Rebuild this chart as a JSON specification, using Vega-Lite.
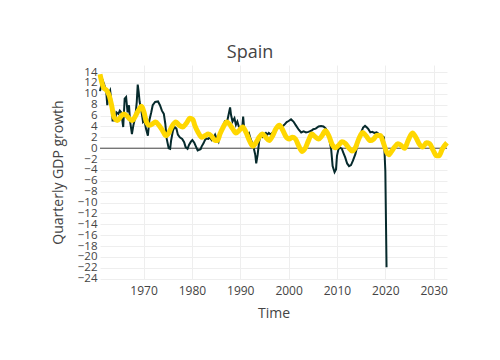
{
  "$schema": "https://vega.github.io/schema/vega-lite/v6.json",
  "autosize": {"type": "none"},
  "padding": {"left": 100, "top": 65, "right": 53, "bottom": 81},
  "width": 347,
  "height": 214,
  "background": "white",
  "title": {"text": "Spain", "font": "Open Sans", "fontSize": 18, "fontWeight": "normal", "color": "#444", "anchor": "middle", "dx": -23.5, "dy": 21, "baseline": "alphabetic", "offset": 9},
  "config": {
    "view": {"stroke": null},
    "axis": {"domain": false, "ticks": false, "gridColor": "#eeeeee", "gridWidth": 1, "labelColor": "#444", "labelFont": "Open Sans", "labelFontSize": 12, "labelOverlap": false, "titleFont": "Open Sans", "titleFontSize": 14, "titleColor": "#444", "titleFontWeight": "normal"}
  },
  "datasets": {
    "actual": [
      {"t":1961.0,"v":10.5},{"t":1961.5,"v":12.6},{"t":1961.9,"v":11.6},{"t":1962.3,"v":10.3},{"t":1962.5,"v":7.9},{"t":1962.8,"v":10.0},{"t":1963.1,"v":10.6},{"t":1963.3,"v":9.1},{"t":1963.6,"v":5.1},{"t":1964.1,"v":5.1},{"t":1964.4,"v":6.6},{"t":1964.8,"v":6.3},{"t":1965.1,"v":6.9},{"t":1965.4,"v":6.6},{"t":1965.8,"v":3.9},{"t":1966.1,"v":9.1},{"t":1966.4,"v":9.4},{"t":1966.7,"v":6.6},{"t":1967.0,"v":7.9},{"t":1967.2,"v":5.1},{"t":1967.6,"v":2.6},{"t":1967.9,"v":4.2},{"t":1968.3,"v":5.7},{"t":1968.6,"v":8.5},{"t":1968.8,"v":11.7},{"t":1969.0,"v":10.3},{"t":1969.2,"v":8.5},{"t":1969.5,"v":7.2},{"t":1969.9,"v":4.8},{"t":1970.2,"v":5.1},{"t":1970.5,"v":3.6},{"t":1970.9,"v":2.3},{"t":1971.2,"v":5.1},{"t":1971.6,"v":6.6},{"t":1971.9,"v":7.9},{"t":1972.4,"v":8.5},{"t":1973.0,"v":8.6},{"t":1973.4,"v":7.9},{"t":1973.8,"v":6.9},{"t":1974.2,"v":6.3},{"t":1974.5,"v":4.5},{"t":1974.8,"v":1.7},{"t":1975.2,"v":0.0},{"t":1975.5,"v":-0.1},{"t":1975.7,"v":1.4},{"t":1976.1,"v":3.3},{"t":1976.4,"v":3.9},{"t":1976.8,"v":3.6},{"t":1977.1,"v":2.5},{"t":1977.5,"v":2.0},{"t":1978.0,"v":1.7},{"t":1978.4,"v":1.1},{"t":1978.7,"v":0.2},{"t":1979.1,"v":-0.1},{"t":1979.4,"v":0.6},{"t":1979.8,"v":1.2},{"t":1980.1,"v":1.5},{"t":1980.5,"v":1.0},{"t":1980.8,"v":0.4},{"t":1981.2,"v":-0.4},{"t":1981.5,"v":-0.3},{"t":1981.8,"v":-0.2},{"t":1982.0,"v":0.3},{"t":1982.4,"v":0.9},{"t":1982.7,"v":1.5},{"t":1983.0,"v":1.8},{"t":1983.4,"v":1.7},{"t":1983.7,"v":2.0},{"t":1984.1,"v":1.5},{"t":1984.4,"v":1.8},{"t":1984.8,"v":2.5},{"t":1985.1,"v":1.8},{"t":1985.5,"v":1.2},{"t":1985.8,"v":2.5},{"t":1986.2,"v":3.7},{"t":1986.5,"v":4.3},{"t":1986.8,"v":4.9},{"t":1987.2,"v":4.6},{"t":1987.5,"v":5.8},{"t":1987.9,"v":7.5},{"t":1988.1,"v":6.1},{"t":1988.4,"v":4.9},{"t":1988.8,"v":5.5},{"t":1989.1,"v":4.3},{"t":1989.4,"v":4.9},{"t":1989.7,"v":4.0},{"t":1990.1,"v":3.7},{"t":1990.4,"v":3.7},{"t":1990.6,"v":5.8},{"t":1990.8,"v":3.7},{"t":1991.1,"v":3.4},{"t":1991.4,"v":2.5},{"t":1991.8,"v":2.8},{"t":1992.1,"v":1.8},{"t":1992.5,"v":0.9},{"t":1992.8,"v":0.0},{"t":1993.1,"v":-1.2},{"t":1993.3,"v":-2.8},{"t":1993.6,"v":-1.2},{"t":1993.9,"v":1.2},{"t":1994.2,"v":2.5},{"t":1994.6,"v":2.1},{"t":1994.9,"v":2.5},{"t":1995.3,"v":2.8},{"t":1995.6,"v":2.5},{"t":1995.9,"v":2.8},{"t":1996.3,"v":2.5},{"t":1996.6,"v":2.8},{"t":1997.1,"v":3.2},{"t":1997.6,"v":3.7},{"t":1998.1,"v":3.8},{"t":1998.7,"v":4.0},{"t":1999.1,"v":4.3},{"t":1999.6,"v":4.8},{"t":2000.0,"v":5.0},{"t":2000.5,"v":5.3},{"t":2001.0,"v":4.9},{"t":2001.5,"v":4.2},{"t":2002.1,"v":3.4},{"t":2002.6,"v":2.9},{"t":2003.1,"v":3.1},{"t":2003.6,"v":2.9},{"t":2004.1,"v":3.0},{"t":2004.7,"v":3.2},{"t":2005.1,"v":3.5},{"t":2005.6,"v":3.6},{"t":2006.2,"v":4.0},{"t":2006.7,"v":4.1},{"t":2007.2,"v":4.0},{"t":2007.7,"v":3.6},{"t":2008.1,"v":2.9},{"t":2008.4,"v":1.7},{"t":2008.8,"v":-0.2},{"t":2009.1,"v":-3.3},{"t":2009.5,"v":-4.4},{"t":2009.8,"v":-3.9},{"t":2010.0,"v":-1.4},{"t":2010.3,"v":-0.2},{"t":2010.6,"v":0.1},{"t":2011.0,"v":-0.1},{"t":2011.3,"v":-0.8},{"t":2011.7,"v":-1.7},{"t":2012.1,"v":-2.8},{"t":2012.5,"v":-3.3},{"t":2012.9,"v":-3.1},{"t":2013.3,"v":-2.3},{"t":2013.8,"v":-1.1},{"t":2014.2,"v":0.4},{"t":2014.6,"v":1.7},{"t":2015.0,"v":2.9},{"t":2015.4,"v":3.8},{"t":2015.8,"v":4.1},{"t":2016.2,"v":3.8},{"t":2016.5,"v":3.5},{"t":2016.9,"v":2.9},{"t":2017.3,"v":3.0},{"t":2017.7,"v":2.8},{"t":2018.2,"v":2.9},{"t":2018.7,"v":2.6},{"t":2019.2,"v":2.3},{"t":2019.7,"v":2.0},{"t":2020.0,"v":-4.2},{"t":2020.25,"v":-21.9}
    ],
    "fit": [
      {"t":1961.0,"v":13.6},{"t":1961.7,"v":11.2},{"t":1962.4,"v":10.6},{"t":1962.9,"v":9.7},{"t":1963.4,"v":7.9},{"t":1963.9,"v":5.7},{"t":1964.6,"v":5.1},{"t":1965.2,"v":5.7},{"t":1965.9,"v":6.3},{"t":1966.5,"v":6.0},{"t":1967.1,"v":5.4},{"t":1967.7,"v":5.1},{"t":1968.2,"v":5.7},{"t":1968.9,"v":6.9},{"t":1969.6,"v":7.7},{"t":1970.1,"v":6.6},{"t":1970.6,"v":4.8},{"t":1971.2,"v":4.2},{"t":1971.9,"v":4.5},{"t":1972.5,"v":4.8},{"t":1973.2,"v":4.2},{"t":1973.9,"v":3.3},{"t":1974.6,"v":2.3},{"t":1975.1,"v":2.6},{"t":1975.8,"v":3.9},{"t":1976.7,"v":4.8},{"t":1977.4,"v":4.2},{"t":1978.1,"v":3.9},{"t":1978.8,"v":4.5},{"t":1979.6,"v":5.5},{"t":1980.2,"v":5.3},{"t":1980.6,"v":4.2},{"t":1981.3,"v":2.9},{"t":1982.0,"v":2.0},{"t":1982.7,"v":2.3},{"t":1983.4,"v":2.6},{"t":1984.1,"v":2.2},{"t":1984.8,"v":1.4},{"t":1985.3,"v":1.4},{"t":1985.8,"v":2.6},{"t":1986.5,"v":3.9},{"t":1987.2,"v":4.8},{"t":1987.7,"v":4.5},{"t":1988.4,"v":3.6},{"t":1989.1,"v":2.8},{"t":1989.8,"v":3.3},{"t":1990.5,"v":3.9},{"t":1991.2,"v":2.9},{"t":1991.9,"v":1.4},{"t":1992.6,"v":0.4},{"t":1993.3,"v":1.1},{"t":1993.9,"v":2.0},{"t":1994.6,"v":2.6},{"t":1995.3,"v":2.0},{"t":1996.0,"v":1.4},{"t":1996.7,"v":2.3},{"t":1997.4,"v":3.6},{"t":1998.1,"v":4.2},{"t":1998.8,"v":3.3},{"t":1999.4,"v":2.2},{"t":2000.1,"v":1.7},{"t":2000.8,"v":2.0},{"t":2001.4,"v":1.7},{"t":2002.1,"v":0.4},{"t":2002.8,"v":-0.6},{"t":2003.5,"v":0.1},{"t":2004.1,"v":1.4},{"t":2004.8,"v":2.6},{"t":2005.5,"v":2.1},{"t":2006.2,"v":1.7},{"t":2006.9,"v":2.3},{"t":2007.6,"v":3.2},{"t":2008.3,"v":2.3},{"t":2009.0,"v":0.7},{"t":2009.7,"v":0.1},{"t":2010.4,"v":0.6},{"t":2011.0,"v":1.2},{"t":2011.7,"v":0.9},{"t":2012.4,"v":0.1},{"t":2013.1,"v":-0.5},{"t":2013.8,"v":0.1},{"t":2014.5,"v":1.7},{"t":2015.3,"v":2.9},{"t":2016.0,"v":2.3},{"t":2016.9,"v":1.4},{"t":2017.6,"v":1.7},{"t":2018.3,"v":2.4},{"t":2019.0,"v":2.3},{"t":2019.6,"v":1.0},{"t":2020.3,"v":-0.8},{"t":2020.7,"v":-1.2},{"t":2021.2,"v":-0.7},{"t":2021.9,"v":0.2},{"t":2022.6,"v":0.8},{"t":2023.3,"v":0.5},{"t":2024.0,"v":0.0},{"t":2024.7,"v":1.4},{"t":2025.6,"v":2.8},{"t":2026.3,"v":2.0},{"t":2027.0,"v":0.8},{"t":2027.7,"v":0.2},{"t":2028.5,"v":1.0},{"t":2029.2,"v":0.8},{"t":2029.9,"v":-0.4},{"t":2030.6,"v":-1.4},{"t":2031.1,"v":-1.4},{"t":2031.8,"v":-0.1},{"t":2032.75,"v":1.0}
    ],
    "zero": [{"v": 0}]
  },
  "encoding": {
    "x": {"field": "t", "type": "quantitative", "title": "Time",
      "scale": {"domain": [1961, 2032.75], "nice": false, "zero": false},
      "axis": {"values": [1970, 1980, 1990, 2000, 2010, 2020, 2030], "format": "d", "labelPadding": 6, "titleY": 38, "titleBaseline": "alphabetic"}},
    "y": {"field": "v", "type": "quantitative", "title": "Quarterly GDP growth",
      "scale": {"domain": [-24.05, 15.3], "nice": false, "zero": false},
      "axis": {"values": [-24,-22,-20,-18,-16,-14,-12,-10,-8,-6,-4,-2,0,2,4,6,8,10,12,14], "labelFontSize": 11.5, "labelPadding": 3, "titleX": -38, "titleY": 107, "titleBaseline": "alphabetic"}}
  },
  "layer": [
    {"data": {"name": "zero"}, "mark": {"type": "rule", "color": "#444444", "strokeWidth": 1}, "encoding": {"x": null}},
    {"data": {"name": "actual"}, "mark": {"type": "line", "color": "#062a2c", "strokeWidth": 2}},
    {"data": {"name": "fit"}, "mark": {"type": "line", "color": "#FFD700", "strokeWidth": 5, "interpolate": "monotone"}}
  ]
}
